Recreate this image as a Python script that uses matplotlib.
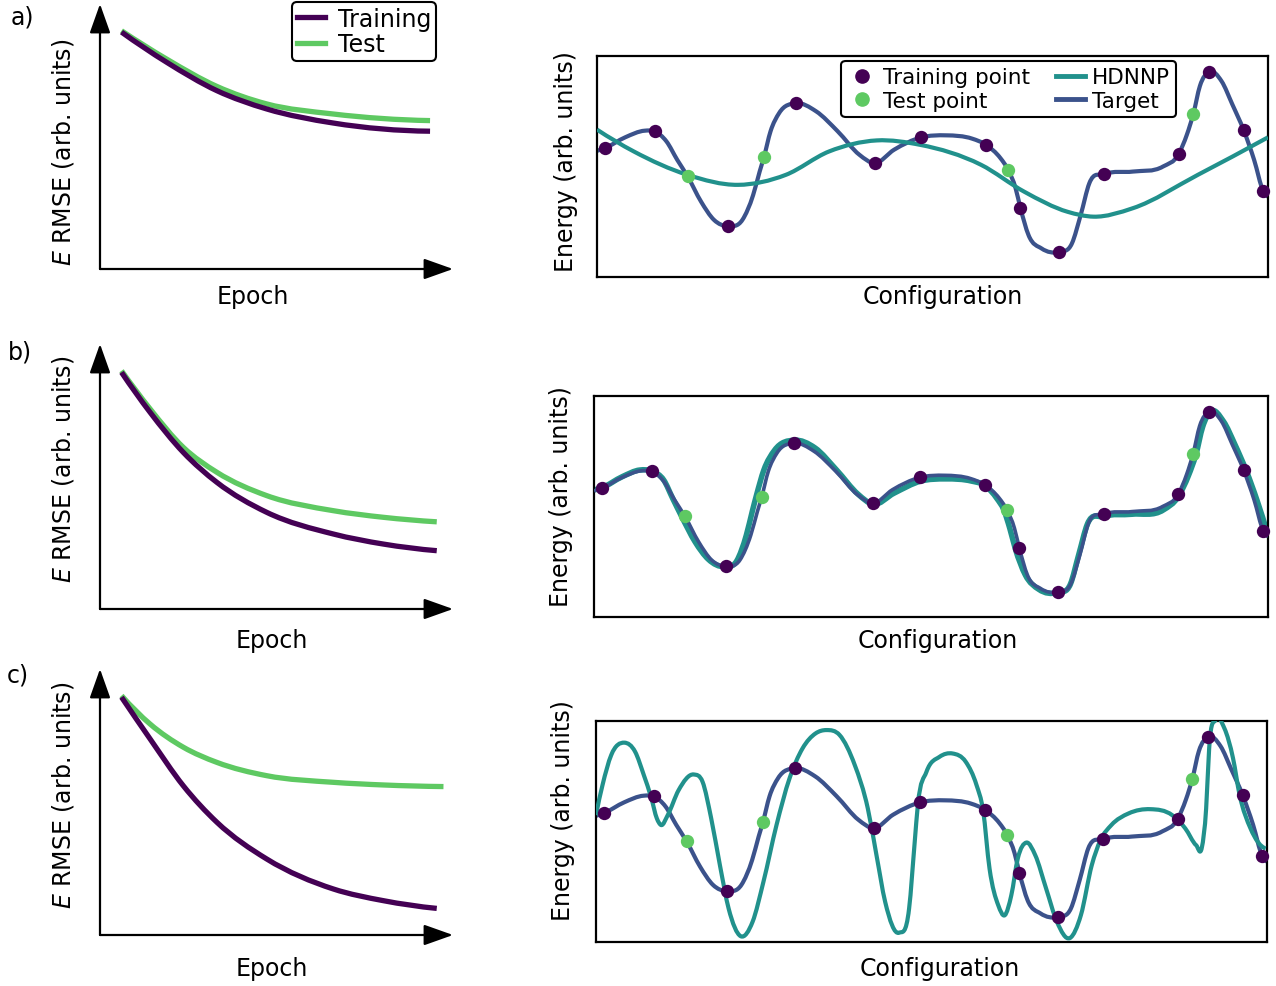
import numpy as np
import matplotlib
matplotlib.use('Agg')
import matplotlib.pyplot as plt
from matplotlib.path import Path
from matplotlib.patches import PathPatch
from matplotlib.lines import Line2D

# ---------------- data (arbitrary units) ----------------
# Left column: RMSE vs epoch
epoch_a = [0.061, 0.189, 0.331, 0.472, 0.660, 0.935]
train_rmse_a = [0.894, 0.780, 0.673, 0.604, 0.551, 0.520]
test_rmse_a = [0.899, 0.792, 0.689, 0.623, 0.585, 0.560]

epoch_b = [0.061, 0.142, 0.236, 0.331, 0.472, 0.661, 0.803, 0.954]
train_rmse_b = [0.893, 0.742, 0.591, 0.478, 0.365, 0.283, 0.245, 0.220]
test_rmse_b = [0.899, 0.755, 0.610, 0.516, 0.428, 0.371, 0.346, 0.329]

epoch_c_train = [0.061, 0.142, 0.236, 0.331, 0.472, 0.661, 0.803, 0.954]
train_rmse_c = [0.894, 0.737, 0.561, 0.424, 0.286, 0.173, 0.129, 0.100]
epoch_c_test = [0.061, 0.142, 0.236, 0.331, 0.472, 0.661, 0.803, 0.973]
test_rmse_c = [0.900, 0.793, 0.706, 0.649, 0.599, 0.574, 0.564, 0.558]

# Right column: energy vs configuration
target_x = [0.0, 0.0116, 0.042, 0.0711, 0.086, 0.1034, 0.1196, 0.1351, 0.1551, 0.1745,
            0.1952, 0.2166, 0.2327, 0.2424, 0.2489, 0.2586, 0.2715, 0.2967, 0.3264, 0.3588,
            0.3911, 0.4137, 0.4428, 0.4835, 0.5204, 0.5591, 0.5798, 0.6012, 0.6128, 0.6238,
            0.6309, 0.6432, 0.6626, 0.6884, 0.7078, 0.7208, 0.7337, 0.7563, 0.7983, 0.8436,
            0.8668, 0.8791, 0.8888, 0.8985, 0.9127, 0.9308, 0.9470, 0.9638, 0.9793, 0.9929, 1.0]
target_y = [0.571, 0.583, 0.632, 0.662, 0.659, 0.614, 0.530, 0.455, 0.341, 0.258,
            0.230, 0.258, 0.371, 0.477, 0.544, 0.659, 0.742, 0.786, 0.750, 0.659,
            0.553, 0.515, 0.576, 0.632, 0.641, 0.626, 0.598, 0.538, 0.485, 0.402,
            0.314, 0.189, 0.129, 0.114, 0.152, 0.280, 0.424, 0.465, 0.477, 0.500,
            0.556, 0.644, 0.739, 0.864, 0.929, 0.886, 0.780, 0.664, 0.530, 0.389, 0.364]

train_pt_x = [0.0116, 0.086, 0.1952, 0.2967, 0.4137, 0.4835, 0.5798, 0.6309, 0.6884, 0.7563,
              0.8668, 0.9127, 0.9638, 0.9929]
train_pt_y = [0.583, 0.659, 0.230, 0.786, 0.515, 0.632, 0.598, 0.314, 0.114, 0.465,
              0.556, 0.929, 0.664, 0.389]
test_pt_x = [0.1351, 0.2489, 0.6128, 0.8888]
test_pt_y = [0.455, 0.544, 0.485, 0.739]

hdnnp_a_x = [0.0, 0.0549, 0.1351, 0.2101, 0.2812, 0.3458, 0.4169, 0.4816, 0.5721, 0.6367,
             0.7014, 0.7401, 0.7983, 0.8953, 1.0]
hdnnp_a_y = [0.667, 0.568, 0.462, 0.417, 0.462, 0.568, 0.618, 0.598, 0.508, 0.386,
             0.295, 0.273, 0.311, 0.462, 0.632]

hdnnp_b_x = [0.0, 0.0116, 0.042, 0.068, 0.086, 0.1034, 0.117, 0.130, 0.150, 0.170,
             0.193, 0.212, 0.226, 0.235, 0.241, 0.252, 0.268, 0.297, 0.328, 0.360,
             0.392, 0.414, 0.445, 0.485, 0.522, 0.560, 0.580, 0.598, 0.608, 0.617,
             0.625, 0.640, 0.660, 0.688, 0.707, 0.719, 0.732, 0.756, 0.798, 0.845,
             0.867, 0.882, 0.893, 0.903, 0.915, 0.934, 0.951, 0.968, 0.984, 1.0]
hdnnp_b_y = [0.575, 0.585, 0.635, 0.665, 0.660, 0.620, 0.535, 0.455, 0.340, 0.260,
             0.228, 0.255, 0.370, 0.480, 0.550, 0.665, 0.755, 0.800, 0.765, 0.665,
             0.555, 0.510, 0.560, 0.615, 0.625, 0.615, 0.595, 0.535, 0.485, 0.400,
             0.310, 0.190, 0.125, 0.112, 0.150, 0.280, 0.420, 0.455, 0.465, 0.485,
             0.545, 0.640, 0.735, 0.860, 0.930, 0.885, 0.780, 0.660, 0.525, 0.370]

hdnnp_c_x = [0.0, 0.0097, 0.0227, 0.0421, 0.0583, 0.0713, 0.0823, 0.0907, 0.0972, 0.1069,
             0.1231, 0.1458, 0.1588, 0.1717, 0.1847, 0.1977, 0.2158, 0.2333, 0.2495, 0.2690,
             0.2884, 0.3078, 0.3273, 0.3435, 0.3629, 0.3856, 0.4051, 0.4180, 0.4310, 0.4517,
             0.4666, 0.4750, 0.4796, 0.4925, 0.5120, 0.5314, 0.5509, 0.5671, 0.5768, 0.5865,
             0.5995, 0.6092, 0.6189, 0.6286, 0.6416, 0.6546, 0.6708, 0.6870, 0.7064, 0.7226,
             0.7388, 0.7518, 0.7680, 0.7939, 0.8263, 0.8587, 0.8782, 0.8944, 0.9028, 0.9093,
             0.9138, 0.9235, 0.9365, 0.9494, 0.9592, 0.9754, 0.9981]
hdnnp_c_y = [0.574, 0.710, 0.846, 0.902, 0.861, 0.755, 0.653, 0.559, 0.529, 0.574,
             0.687, 0.758, 0.725, 0.559, 0.347, 0.151, 0.026, 0.091, 0.272, 0.529,
             0.740, 0.876, 0.944, 0.959, 0.937, 0.801, 0.604, 0.393, 0.181, 0.042,
             0.151, 0.453, 0.619, 0.770, 0.838, 0.853, 0.816, 0.710, 0.597, 0.332,
             0.166, 0.121, 0.211, 0.378, 0.450, 0.393, 0.242, 0.091, 0.018, 0.121,
             0.347, 0.461, 0.529, 0.582, 0.601, 0.574, 0.514, 0.438, 0.426, 0.604,
             0.876, 1.005, 0.967, 0.831, 0.665, 0.514, 0.423]

# ---------------- styling ----------------
C_TRAIN = '#440154'
C_TEST = '#5ec962'
C_HDNNP = '#21918c'
C_TARGET = '#3b528b'
FS = 17

plt.rcParams['font.family'] = ['DejaVu Sans']
plt.rcParams['mathtext.fontset'] = 'dejavusans'

W, H = 1276, 987
fig = plt.figure(figsize=(W / 100, H / 100), dpi=100)


def fx(px):
    return px / W


def fy(py):
    return 1 - py / H


def smooth_path(xs, ys):
    """Smooth Bezier path through the knots (cubic Hermite, 3-point tangents)."""
    xs = np.asarray(xs, float)
    ys = np.asarray(ys, float)
    n = len(xs)
    h = np.diff(xs)
    d = np.diff(ys) / h
    m = np.empty(n)
    m[1:-1] = (h[:-1] * d[1:] + h[1:] * d[:-1]) / (h[:-1] + h[1:])
    if n > 2:
        m[0] = ((2 * h[0] + h[1]) * d[0] - h[0] * d[1]) / (h[0] + h[1])
        m[-1] = ((2 * h[-1] + h[-2]) * d[-1] - h[-1] * d[-2]) / (h[-1] + h[-2])
    else:
        m[:] = d[0]
    verts = [(xs[0], ys[0])]
    codes = [Path.MOVETO]
    for i in range(n - 1):
        verts += [(xs[i] + h[i] / 3, ys[i] + m[i] * h[i] / 3),
                  (xs[i + 1] - h[i] / 3, ys[i + 1] - m[i + 1] * h[i] / 3),
                  (xs[i + 1], ys[i + 1])]
        codes += [Path.CURVE4] * 3
    return Path(verts, codes)


def draw_curve(ax, xs, ys, color, lw, z, clip=True):
    p = PathPatch(smooth_path(xs, ys), facecolor='none', edgecolor=color, lw=lw,
                  zorder=z, capstyle='butt', joinstyle='round')
    ax.add_patch(p)
    p.set_clip_on(clip)
    return p


def epoch_axes(rect, label_y, epoch_xy):
    ax = fig.add_axes(rect)
    ax.set_xlim(0, 1)
    ax.set_ylim(0, 1)
    for s in ax.spines.values():
        s.set_visible(False)
    ax.set_xticks([])
    ax.set_yticks([])
    ap = dict(arrowstyle='-|>,head_length=0.9,head_width=0.32', lw=1.6, color='k',
              shrinkA=0, shrinkB=0, mutation_scale=20)
    ax.annotate('', xy=(1, 0), xytext=(0, 0), xycoords='axes fraction', arrowprops=ap)
    ax.annotate('', xy=(0, 1), xytext=(0, 0), xycoords='axes fraction', arrowprops=ap)
    ax.set_ylabel(r'$E$ RMSE (arb. units)', fontsize=FS)
    ax.yaxis.set_label_coords(*label_y)
    fig.text(fx(epoch_xy[0]), fy(epoch_xy[1]), 'Epoch', fontsize=FS, ha='center', va='center')
    return ax


def energy_axes(rect, label_y, conf_xy):
    ax = fig.add_axes(rect)
    ax.set_xlim(0, 1)
    ax.set_ylim(0, 1)
    for s in ax.spines.values():
        s.set_linewidth(1.6)
    ax.set_xticks([])
    ax.set_yticks([])
    ax.set_ylabel('Energy (arb. units)', fontsize=FS)
    ax.yaxis.set_label_coords(*label_y)
    fig.text(fx(conf_xy[0]), fy(conf_xy[1]), 'Configuration', fontsize=FS, ha='center', va='center')
    return ax


def points(ax):
    ax.scatter(train_pt_x, train_pt_y, s=92, color=C_TRAIN, zorder=5, clip_on=False, linewidths=0)
    ax.scatter(test_pt_x, test_pt_y, s=92, color=C_TEST, zorder=5, clip_on=False, linewidths=0)


LW_L = 3.8
LW_R = 3.0

# ---------- row a ----------
axa = epoch_axes([fx(100), fy(270), fx(353), 265 / H], (-0.068, 0.445), (253, 297))
draw_curve(axa, epoch_a, test_rmse_a, C_TEST, LW_L, 3)
draw_curve(axa, epoch_a, train_rmse_a, C_TRAIN, LW_L, 4)
leg = fig.legend(handles=[Line2D([], [], color=C_TRAIN, lw=LW_L), Line2D([], [], color=C_TEST, lw=LW_L)],
                 labels=['Training', 'Test'], loc='upper right', bbox_to_anchor=(fx(436), fy(3)),
                 fontsize=FS, handlelength=1.2, handletextpad=0.55, labelspacing=0.05,
                 borderpad=0.2, borderaxespad=0, frameon=True, fancybox=True)
leg.get_frame().set_edgecolor('k')
leg.get_frame().set_linewidth(1.5)
leg.get_frame().set_alpha(1)

ra = energy_axes([fx(597), fy(278), fx(671), 221 / H], (-0.028, 0.525), (943, 297))
draw_curve(ra, hdnnp_a_x, hdnnp_a_y, C_HDNNP, LW_R, 3)
draw_curve(ra, target_x, target_y, C_TARGET, LW_R, 2)
points(ra)
handles = [Line2D([], [], marker='o', ls='none', ms=9.5, color=C_TRAIN),
           Line2D([], [], marker='o', ls='none', ms=9.5, color=C_TEST),
           Line2D([], [], color=C_HDNNP, lw=LW_R + 0.5),
           Line2D([], [], color=C_TARGET, lw=LW_R + 0.5)]
leg2 = fig.legend(handles=handles, labels=['Training point', 'Test point', 'HDNNP', 'Target'],
                  ncol=2, loc='upper right', bbox_to_anchor=(fx(1176), fy(62)),
                  fontsize=15.5, handlelength=1.35, handletextpad=0.3, labelspacing=0.15,
                  columnspacing=1.2, borderpad=0.3, borderaxespad=0, frameon=True, fancybox=True)
leg2.get_frame().set_edgecolor('k')
leg2.get_frame().set_linewidth(1.5)
leg2.get_frame().set_alpha(1)

# ---------- row b ----------
axb = epoch_axes([fx(100), fy(610), fx(353), 265 / H], (-0.068, 0.532), (272, 641))
draw_curve(axb, epoch_b, test_rmse_b, C_TEST, LW_L, 3)
draw_curve(axb, epoch_b, train_rmse_b, C_TRAIN, LW_L, 4)

rb = energy_axes([fx(594), fy(618), fx(674), 221 / H], (-0.031, 0.548), (938, 641))
draw_curve(rb, hdnnp_b_x, hdnnp_b_y, C_HDNNP, LW_R + 1.0, 2)
draw_curve(rb, target_x, target_y, C_TARGET, LW_R - 0.4, 3)
points(rb)

# ---------- row c ----------
axc = epoch_axes([fx(100), fy(936), fx(353), 266 / H], (-0.068, 0.530), (272, 969))
draw_curve(axc, epoch_c_test, test_rmse_c, C_TEST, LW_L, 3)
draw_curve(axc, epoch_c_train, train_rmse_c, C_TRAIN, LW_L, 4)

rc = energy_axes([fx(596), fy(943), fx(671), 221 / H], (-0.031, 0.60), (940, 969))
draw_curve(rc, target_x, target_y, C_TARGET, LW_R, 2)
draw_curve(rc, hdnnp_c_x, hdnnp_c_y, C_HDNNP, LW_R, 3)
points(rc)

# panel letters
fig.text(fx(22), fy(18), 'a)', fontsize=FS, ha='center', va='center')
fig.text(fx(20), fy(353), 'b)', fontsize=FS, ha='center', va='center')
fig.text(fx(18), fy(676), 'c)', fontsize=FS, ha='center', va='center')

fig.savefig('out.png', dpi=100, facecolor='white')
